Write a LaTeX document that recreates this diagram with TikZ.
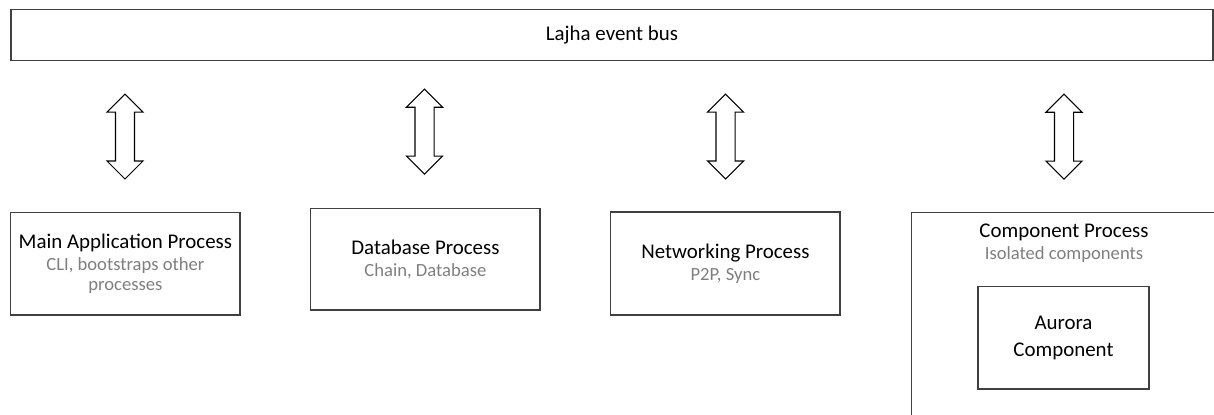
\documentclass[tikz,border=0pt]{standalone}
\usepackage{fontspec}
\setmainfont{Carlito}
\usepackage{tikz}
\usetikzlibrary{shapes.arrows, positioning}

\definecolor{subgray}{HTML}{7F7F7F}
\definecolor{linegray}{HTML}{404040}
\newcommand{\subt}[1]{{\color{subgray}\fontsize{10.6}{11.4}\selectfont #1}}

\begin{document}
\begin{tikzpicture}[
  x=0.02cm, y=-0.02cm,
  font=\fontsize{11.9}{12.5}\selectfont,
  busbox/.style={draw=linegray, line width=0.75pt, minimum width=24.05cm,
                 minimum height=1.02cm, inner sep=0pt},
  procbox/.style={draw=linegray, line width=0.75pt, minimum width=4.59cm,
                  minimum height=2.05cm, align=center, inner sep=0pt},
  compbox/.style={draw=linegray, line width=0.75pt, minimum width=6.09cm,
                  minimum height=4.24cm, inner sep=0pt},
  busarrow/.style={double arrow, draw=black, line width=0.6pt, rotate=90,
                   minimum height=1.7cm, double arrow head extend=0.17cm,
                   inner sep=0.18cm, outer sep=0pt},
]
\useasboundingbox (0,0) rectangle (1214,414);
\clip (0,0) rectangle (1214,414);

% Event bus
\node[busbox] (bus) at (612,34.8) {Lajha event bus};

% Processes
\node[procbox] (main) at (125.4,263.9)
  {Main Application Process\\\subt{CLI, bootstraps other}\\[-1pt]\subt{processes}};
\node[procbox, minimum height=2.03cm] (db) at (425.4,259.2)
  {Database Process\\\subt{Chain, Database}};
\node[procbox, minimum height=2.06cm] (net) at (725.4,263.5)
  {Networking Process\\\subt{P2P, Sync}};

% Component process with nested component
\node[compbox] (comp) at (1064,318.7) {};
\node[align=center, anchor=north, inner sep=0pt] (comptitle) at ([yshift=-0.24cm]comp.north)
  {Component Process\\\subt{Isolated components}};
\node[procbox, minimum width=3.42cm] (aurora) at (1063.5,337.9)
  {Aurora\\[2.7pt]Component};

% Bus links
\node[busarrow] (mainlink) at (125,136.5)   {};
\node[busarrow] (dblink)   at (424.5,131.7) {};
\node[busarrow] (netlink)  at (725.5,136.5) {};
\node[busarrow] (complink) at (1064,136.7)  {};
\end{tikzpicture}
\end{document}
